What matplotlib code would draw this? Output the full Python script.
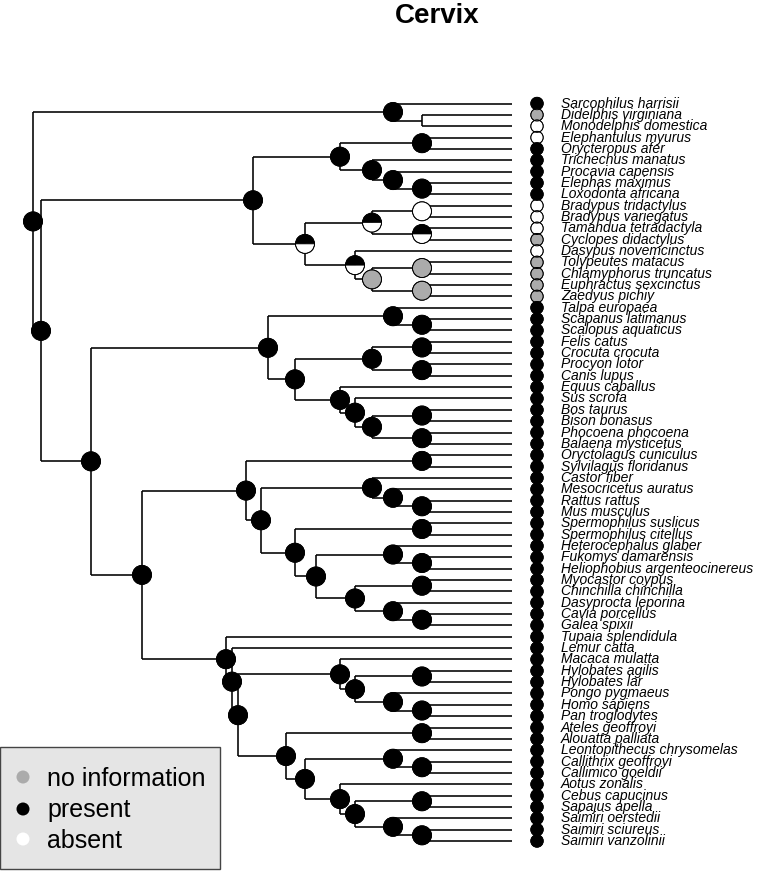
import matplotlib
matplotlib.use("Agg")
import matplotlib.pyplot as plt
from matplotlib.patches import Wedge, Circle, Rectangle
from matplotlib.transforms import ScaledTranslation

# ---------------- data ----------------
title = "Cervix"
legend_labels = ["no information", "present", "absent"]
state_colors = ["#ababab", "#000000", "#ffffff"]

# tips (top to bottom)
taxa = [
    "Sarcophilus harrisii", "Didelphis virginiana", "Monodelphis domestica",
    "Elephantulus myurus", "Orycteropus afer", "Trichechus manatus",
    "Procavia capensis", "Elephas maximus", "Loxodonta africana",
    "Bradypus tridactylus", "Bradypus variegatus", "Tamandua tetradactyla",
    "Cyclopes didactylus", "Dasypus novemcinctus", "Tolypeutes matacus",
    "Chlamyphorus truncatus", "Euphractus sexcinctus", "Zaedyus pichiy",
    "Talpa europaea", "Scapanus latimanus", "Scalopus aquaticus",
    "Felis catus", "Crocuta crocuta", "Procyon lotor", "Canis lupus",
    "Equus caballus", "Sus scrofa", "Bos taurus", "Bison bonasus",
    "Phocoena phocoena", "Balaena mysticetus", "Oryctolagus cuniculus",
    "Sylvilagus floridanus", "Castor fiber", "Mesocricetus auratus",
    "Rattus rattus", "Mus musculus", "Spermophilus suslicus",
    "Spermophilus citellus", "Heterocephalus glaber", "Fukomys damarensis",
    "Heliophobius argenteocinereus", "Myocastor coypus", "Chinchilla chinchilla",
    "Dasyprocta leporina", "Cavia porcellus", "Galea spixii",
    "Tupaia splendidula", "Lemur catta", "Macaca mulatta", "Hylobates agilis",
    "Hylobates lar", "Pongo pygmaeus", "Homo sapiens", "Pan troglodytes",
    "Ateles geoffroyi", "Alouatta palliata", "Leontopithecus chrysomelas",
    "Callithrix geoffroyi", "Callimico goeldii", "Aotus zonalis",
    "Cebus capucinus", "Sapajus apella", "Saimiri oerstedii",
    "Saimiri sciureus", "Saimiri vanzolinii",
]
# tip state: g = no information, b = present, w = absent
tip_state = (["b", "g", "w", "w", "b", "b", "b", "b", "b", "w", "w", "w", "g",
              "w", "g", "g", "g", "g"] + ["b"] * 48)

# topology; internal node labels = node age + reconstructed state
# (b present, w absent, g no information, h half present/half absent, n none)
marsupials = "(Sarcophilus_harrisii,(Didelphis_virginiana,Monodelphis_domestica)90n)119b"
afrotheria = ("((Elephantulus_myurus,Orycteropus_afer)90b,(Trichechus_manatus,"
              "(Procavia_capensis,(Elephas_maximus,Loxodonta_africana)90b)119b)140b)172b")
xenarthra = ("(((Bradypus_tridactylus,Bradypus_variegatus)90w,(Tamandua_tetradactyla,"
             "Cyclopes_didactylus)90h)140h,(Dasypus_novemcinctus,((Tolypeutes_matacus,"
             "Chlamyphorus_truncatus)90g,(Euphractus_sexcinctus,Zaedyus_pichiy)90g)140g)157h)207h")
laurasiatheria = ("((Talpa_europaea,(Scapanus_latimanus,Scalopus_aquaticus)90b)119b,"
                  "(((Felis_catus,Crocuta_crocuta)90b,(Procyon_lotor,Canis_lupus)90b)140b,"
                  "(Equus_caballus,(Sus_scrofa,((Bos_taurus,Bison_bonasus)90b,"
                  "(Phocoena_phocoena,Balaena_mysticetus)90b)140b)157b)172b)217b)244b")
glires = ("((Oryctolagus_cuniculus,Sylvilagus_floridanus)90b,((Castor_fiber,"
          "(Mesocricetus_auratus,(Rattus_rattus,Mus_musculus)90b)119b)140b,"
          "((Spermophilus_suslicus,Spermophilus_citellus)90b,((Heterocephalus_glaber,"
          "(Fukomys_damarensis,Heliophobius_argenteocinereus)90b)119b,"
          "((Myocastor_coypus,Chinchilla_chinchilla)90b,(Dasyprocta_leporina,"
          "(Cavia_porcellus,Galea_spixii)90b)119b)157b)196b)217b)251b)266b")
euarchonta = ("(Tupaia_splendidula,(Lemur_catta,((Macaca_mulatta,((Hylobates_agilis,"
              "Hylobates_lar)90b,(Pongo_pygmaeus,(Homo_sapiens,Pan_troglodytes)90b)119b)157b)172b,"
              "((Ateles_geoffroyi,Alouatta_palliata)90b,((Leontopithecus_chrysomelas,"
              "(Callithrix_geoffroyi,Callimico_goeldii)90b)119b,(Aotus_zonalis,"
              "((Cebus_capucinus,Sapajus_apella)90b,(Saimiri_oerstedii,(Saimiri_sciureus,"
              "Saimiri_vanzolinii)90b)119b)157b)172b)207b)226b)274b)280b)286b")
newick = ("(" + marsupials + ",((" + afrotheria + "," + xenarthra + ")259b,(" +
          laurasiatheria + ",(" + glires + "," + euarchonta + ")370b)421b)471b)479b;")


# ---------------- parse tree ----------------
def parse(s):
    pos = 0

    def read_label():
        nonlocal pos
        start = pos
        while s[pos] not in ",();":
            pos += 1
        return s[start:pos]

    def node():
        nonlocal pos
        if s[pos] == "(":
            pos += 1
            ch = [node()]
            while s[pos] == ",":
                pos += 1
                ch.append(node())
            pos += 1  # ')'
            lab = read_label()
            return {"children": ch, "age": float(lab[:-1]), "state": lab[-1]}
        return {"children": [], "name": read_label().replace("_", " "), "age": 0.0}

    return node()


tree = parse(newick)

tips = []


def assign(n):
    if not n["children"]:
        n["y"] = float(len(tips))
        tips.append(n)
    else:
        for c in n["children"]:
            assign(c)
        n["y"] = (n["children"][0]["y"] + n["children"][-1]["y"]) / 2.0


assign(tree)

# ---------------- figure ----------------
W, H, DPI = 757, 871, 100
fig = plt.figure(figsize=(W / DPI, H / DPI), dpi=DPI)
ax = fig.add_axes([0, 0, 1, 1])
ax.axis("off")
ax.set_xlim(512, 512 - W)
tip_top, tip_step = 103.5, 11.346
ax.set_ylim((H - tip_top) / tip_step, -tip_top / tip_step)

fam = ["Liberation Sans", "DejaVu Sans"]
line_kw = dict(color="black", lw=1.15, solid_capstyle="butt", zorder=1)


def draw_lines(n):
    if not n["children"]:
        return
    ys = [c["y"] for c in n["children"]]
    ax.plot([n["age"], n["age"]], [min(ys), max(ys)], **line_kw)
    for c in n["children"]:
        ax.plot([n["age"], c["age"]], [c["y"], c["y"]], **line_kw)
        draw_lines(c)


draw_lines(tree)

frac_of = {"b": (0, 1, 0), "w": (0, 0, 1), "g": (1, 0, 0), "h": (0, 0.5, 0.5)}


def pie(x, y, r_px, fr, z=3):
    tr = fig.dpi_scale_trans + ScaledTranslation(x, y, ax.transData)
    r = r_px / DPI
    th = 0.0
    for f, c in zip(fr, state_colors):
        if f > 0:
            ax.add_patch(Wedge((0, 0), r, th, th + 360 * f, facecolor=c,
                               edgecolor="black", lw=0.5, transform=tr, zorder=z))
            th += 360 * f
    ax.add_patch(Circle((0, 0), r, fill=False, edgecolor="black", lw=0.7,
                        transform=tr, zorder=z + 0.1))


def draw_pies(n):
    if not n["children"]:
        return
    if n["state"] != "n":
        pie(n["age"], n["y"], 9.5, frac_of[n["state"]])
    for c in n["children"]:
        draw_pies(c)


draw_pies(tree)

dot_off, lab_off = 25, 49
for i, (name, st) in enumerate(zip(taxa, tip_state)):
    pie(-dot_off, i, 6.2, frac_of[st], z=5)
    ax.text(-lab_off, i, name, fontsize=10, style="italic", family=fam,
            ha="left", va="center", zorder=6)

fig.text(437 / W, 1 - 23 / H, title, fontsize=20, fontweight="bold", family=fam,
         ha="center", va="baseline")

# legend
fig.patches.append(Rectangle((0 / W, 1 - 869 / H), 220 / W, 122 / H,
                             transform=fig.transFigure, facecolor="#e5e5e5",
                             edgecolor="#444444", lw=1.0, zorder=10))
for lab, col, yc, yb in zip(legend_labels, state_colors, [777, 809, 839], [786, 817, 848]):
    fig.patches.append(Circle((23, H - yc), 6.5, transform=None,
                              facecolor=col, edgecolor="none", zorder=11))
    fig.text(47 / W, 1 - yb / H, lab, fontsize=18, family=fam,
             ha="left", va="baseline", zorder=12)

fig.savefig("out.png", dpi=DPI)
